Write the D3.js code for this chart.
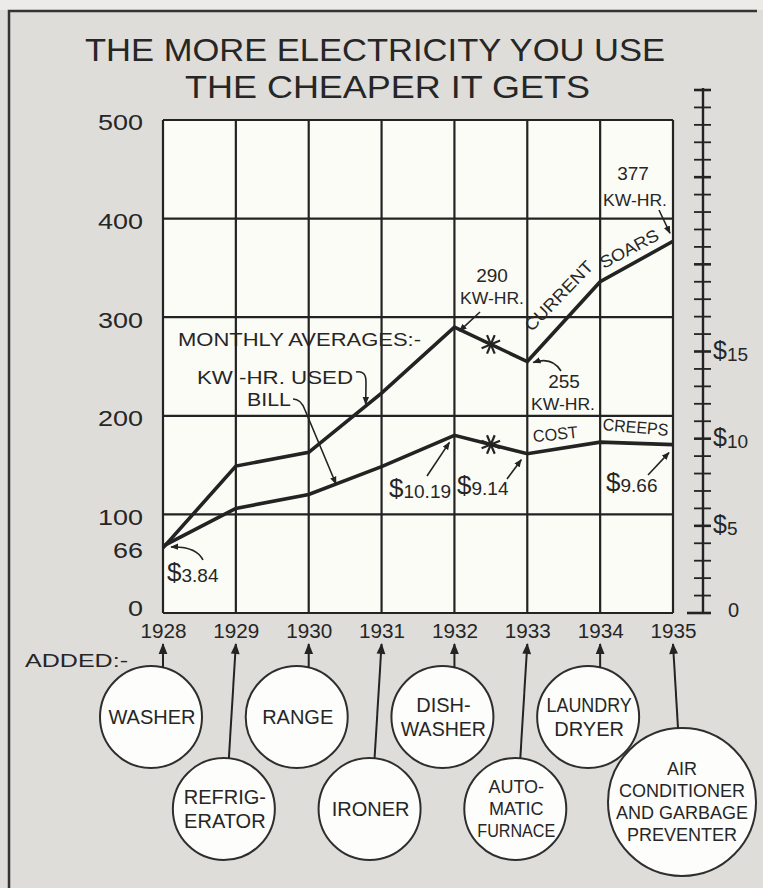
<!DOCTYPE html>
<html>
<head>
<meta charset="utf-8">
<script src="https://cdn.jsdelivr.net/npm/d3@7"></script>
<style>
  html, body { margin: 0; padding: 0; background: #dedddA; }
  svg { display: block; }
  text { font-family: "Liberation Sans", "DejaVu Sans", sans-serif; fill: #262626; }
</style>
</head>
<body>
<svg id="chart" width="763" height="888"></svg>
<script>
// ---- data ----
const years = [1928, 1929, 1930, 1931, 1932, 1933, 1934, 1935];
const kwhUsed = [66, 149, 163, 223, 290, 255, 336, 377];        // monthly kW-hr used
const billDollars = [3.84, 6.0, 6.8, 8.4, 10.19, 9.14, 9.8, 9.66]; // monthly bill, $
const kwhTickLabels = [0, 66, 100, 200, 300, 400, 500];
const kwhGridValues = [100, 200, 300, 400];
const billTickValues = d3.range(0, 31);
const billTickLabels = [0, 5, 10, 15];
const applianceYears = [1928, 1929, 1930, 1931, 1932, 1933, 1934, 1935];
const applianceNames = [
  ["WASHER"],
  ["REFRIG-", "ERATOR"],
  ["RANGE"],
  ["IRONER"],
  ["DISH-", "WASHER"],
  ["AUTO-", "MATIC", "FURNACE"],
  ["LAUNDRY", "DRYER"],
  ["AIR", "CONDITIONER", "AND GARBAGE", "PREVENTER"]
];
const titleLines = ["THE MORE ELECTRICITY YOU USE", "THE CHEAPER IT GETS"];

// ---- layout ----
const ink = "#232323";
const plot = { left: 163, right: 673, top: 120, bottom: 613 };
const svg = d3.select("#chart");

const x = d3.scaleLinear().domain([1928, 1935]).range([plot.left, plot.right]);
const yKwh = d3.scaleLinear().domain([0, 500]).range([plot.bottom, plot.top]);
const yBill = d3.scaleLinear().domain([0, 30]).range([plot.bottom, 90]);

const defs = svg.append("defs");
defs.append("marker")
  .attr("id", "head").attr("viewBox", "0 0 10 10")
  .attr("refX", 9).attr("refY", 5)
  .attr("markerWidth", 8).attr("markerHeight", 8)
  .attr("markerUnits", "userSpaceOnUse").attr("orient", "auto")
  .append("path").attr("d", "M0,1 L10,5 L0,9 Z").attr("fill", ink);
defs.append("marker")
  .attr("id", "headBig").attr("viewBox", "0 0 10 10")
  .attr("refX", 9).attr("refY", 5)
  .attr("markerWidth", 12).attr("markerHeight", 11)
  .attr("markerUnits", "userSpaceOnUse").attr("orient", "auto")
  .append("path").attr("d", "M0,1 L10,5 L0,9 Z").attr("fill", ink);

// page background and frame
svg.append("rect").attr("width", 763).attr("height", 888).attr("fill", "#dedddA");
svg.append("rect").attr("width", 763).attr("height", 10).attr("fill", "#ecebe8");
svg.append("path").attr("d", "M9,888 L9,11 L757,11")
  .attr("fill", "none").attr("stroke", "#333").attr("stroke-width", 2.5);

// title
svg.selectAll("text.title").data(titleLines).join("text")
  .attr("class", "title")
  .attr("x", (d, i) => i === 0 ? 85 : 185)
  .attr("y", (d, i) => i === 0 ? 61 : 98)
  .attr("font-size", 32)
  .attr("textLength", (d, i) => i === 0 ? 580 : 405)
  .attr("lengthAdjust", "spacingAndGlyphs")
  .text(d => d);

// plot field and grid
svg.append("rect")
  .attr("x", plot.left).attr("y", plot.top)
  .attr("width", plot.right - plot.left).attr("height", plot.bottom - plot.top)
  .attr("fill", "#fcfcf7");
const grid = svg.append("g").attr("stroke", ink).attr("stroke-width", 2.2);
grid.selectAll("line.v").data(years).join("line").attr("class", "v")
  .attr("x1", d => x(d)).attr("x2", d => x(d))
  .attr("y1", plot.top).attr("y2", plot.bottom);
grid.selectAll("line.h").data(kwhGridValues.concat([0, 500])).join("line").attr("class", "h")
  .attr("x1", plot.left).attr("x2", plot.right)
  .attr("y1", d => yKwh(d)).attr("y2", d => yKwh(d));

// left (kW-hr) axis labels
const leftAxis = svg.append("g")
  .attr("transform", `translate(${plot.left},0)`)
  .call(d3.axisLeft(yKwh).tickValues(kwhTickLabels).tickSize(0).tickPadding(20).tickFormat(d3.format("d")));
leftAxis.select(".domain").remove();
leftAxis.selectAll("text")
  .attr("font-size", 22).attr("fill", "#333")
  .attr("font-family", "Liberation Sans, sans-serif")
  .attr("textLength", d => String(d).length * 15)
  .attr("lengthAdjust", "spacingAndGlyphs")
  .attr("dy", d => d === 0 ? "0.12em" : "0.45em");

// bottom year labels
const bottomAxis = svg.append("g")
  .attr("transform", `translate(0,${plot.bottom})`)
  .call(d3.axisBottom(x).tickValues(years).tickSize(0).tickPadding(11).tickFormat(d3.format("d")));
bottomAxis.select(".domain").remove();
bottomAxis.selectAll("text")
  .attr("font-size", 20).attr("fill", "#333")
  .attr("font-family", "Liberation Sans, sans-serif")
  .attr("textLength", 46).attr("lengthAdjust", "spacingAndGlyphs");

// right ($) scale
const axisX = 703;
const rightAxis = svg.append("g").attr("stroke", ink);
rightAxis.append("line")
  .attr("x1", axisX).attr("x2", axisX)
  .attr("y1", yBill(0)).attr("y2", yBill(30) - 2)
  .attr("stroke-width", 2.4);
rightAxis.selectAll("line.t").data(billTickValues).join("line").attr("class", "t")
  .attr("x1", d => axisX - (d === 0 ? 16 : 9)).attr("x2", axisX + 8)
  .attr("y1", d => yBill(d)).attr("y2", d => yBill(d))
  .attr("stroke-width", d => d % 5 === 0 ? 2.6 : 1.8);
const billLab = svg.selectAll("text.bill").data(billTickLabels).join("text")
  .attr("class", "bill")
  .attr("x", d => d === 0 ? 728 : 713)
  .attr("y", d => yBill(d) + (d === 0 ? 4 : 7));
billLab.filter(d => d === 0).attr("font-size", 20).text("0");
billLab.filter(d => d > 0).each(function (d) {
  const t = d3.select(this);
  t.append("tspan").attr("font-size", 25).text("$");
  t.append("tspan").attr("font-size", 19).attr("dy", 2).text(d);
});

// data lines
const line = d3.line().curve(d3.curveLinear);
const kwhPts = years.map((yr, i) => [x(yr), yKwh(kwhUsed[i])]);
const billPts = years.map((yr, i) => [x(yr), yBill(billDollars[i])]);
svg.append("path").attr("d", line(kwhPts))
  .attr("fill", "none").attr("stroke", ink).attr("stroke-width", 3.6).attr("stroke-linejoin", "miter");
svg.append("path").attr("d", line(billPts))
  .attr("fill", "none").attr("stroke", ink).attr("stroke-width", 3.6).attr("stroke-linejoin", "miter");

// asterisks on the 1932-33 segments
function star(cx, cy, r) {
  const g = svg.append("g").attr("stroke", ink).attr("stroke-width", 2.2);
  for (let k = 0; k < 4; k++) {
    const a = k * Math.PI / 4 + Math.PI / 8;
    g.append("line")
      .attr("x1", cx - r * Math.cos(a)).attr("y1", cy - r * Math.sin(a))
      .attr("x2", cx + r * Math.cos(a)).attr("y2", cy + r * Math.sin(a));
  }
}
const midX = (x(1932) + x(1933)) / 2;
star(midX, (yKwh(kwhUsed[4]) + yKwh(kwhUsed[5])) / 2, 10);
star(midX, (yBill(billDollars[4]) + yBill(billDollars[5])) / 2, 10);

// annotation text helper
function label(txt, px, py, size, opts = {}) {
  const t = svg.append("text").attr("x", px).attr("y", py)
    .attr("font-size", size)
    .attr("text-anchor", opts.anchor || "start")
    .text(txt);
  if (opts.width) t.attr("textLength", opts.width).attr("lengthAdjust", "spacingAndGlyphs");
  if (opts.rotate) t.attr("transform", `rotate(${opts.rotate},${px},${py})`);
  return t;
}
function dollar(amount, px, py) {
  const t = svg.append("text").attr("x", px).attr("y", py);
  t.append("tspan").attr("font-size", 26).text("$");
  t.append("tspan").attr("font-size", 19).attr("dy", 1).text(amount);
  return t;
}
function arrow(d) {
  svg.append("path").attr("d", d)
    .attr("fill", "none").attr("stroke", ink).attr("stroke-width", 1.6)
    .attr("marker-end", "url(#head)");
}

label("MONTHLY AVERAGES:-", 178, 346, 18, { width: 243 });
label("KW -HR. USED", 197, 384, 18, { width: 156 });
label("BILL", 247, 406, 18, { width: 44 });
arrow(`M356,372 Q366,370 366,382 L${x(1930) + 57},${yKwh(kwhUsed[2]) - 48}`);
arrow(`M293,399 Q301,399 305,410 L336,484`);

label("290", 492, 282, 19, { anchor: "middle" });
label("KW-HR.", 492, 304, 16, { anchor: "middle", width: 64 });
arrow(`M480,312 L${x(1932) + 5},${yKwh(290) + 4}`);

label("255", 564, 388, 19, { anchor: "middle" });
label("KW-HR.", 563, 410, 16, { anchor: "middle", width: 64 });
arrow(`M561,371 Q552,356 ${x(1933) + 6},${yKwh(255) + 1}`);

label("377", 633, 180, 19, { anchor: "middle" });
label("KW-HR.", 635, 206, 16, { anchor: "middle", width: 64 });
arrow(`M659,210 L${x(1935) - 3},${yKwh(377) - 8}`);

label("CURRENT", 563, 300, 17, { anchor: "middle", width: 90, rotate: -46 });
label("SOARS", 632, 254, 17, { anchor: "middle", width: 64, rotate: -28 });
label("COST", 556, 440, 17, { anchor: "middle", width: 45, rotate: -6 });
label("CREEPS", 635, 433, 17, { anchor: "middle", width: 66, rotate: 5 });

dollar("3.84", 167, 581);
arrow(`M203,560 Q196,546 ${x(1928) + 8},${yBill(3.84) + 1}`);
dollar("10.19", 389, 497);
arrow(`M427,476 L${x(1932) - 5},${yBill(10.19) + 7}`);
dollar("9.14", 457, 494);
arrow(`M507,479 L${x(1933) - 6},${yBill(9.14) + 6}`);
dollar("9.66", 606, 491);
arrow(`M648,475 L${x(1935) - 4},${yBill(9.66) + 8}`);

// appliances added each year
label("ADDED:-", 25, 667, 19, { width: 103 });
const circles = svg.append("g");
applianceYears.forEach((yr, i) => {
  const names = applianceNames[i];
  const lower = i % 2 === 1;
  const big = names.length > 3;
  const r = big ? 74 : 51;
  const cx = big ? x(yr) + 9 : x(yr) - 12;
  const cy = big ? 802 : (lower ? 809 : 717);
  const startX = big ? cx - 4 : (lower ? cx + 5 : x(yr));
  const startY = cy - Math.sqrt(r * r - (startX - cx) * (startX - cx));
  svg.append("line")
    .attr("x1", startX).attr("y1", startY)
    .attr("x2", x(yr)).attr("y2", 644)
    .attr("stroke", ink).attr("stroke-width", 2)
    .attr("marker-end", "url(#headBig)");
  circles.append("circle").attr("cx", cx).attr("cy", cy).attr("r", r)
    .attr("fill", "#fdfdfb").attr("stroke", "#2e2e2e").attr("stroke-width", 2);
  const size = big ? 18 : (names.length >= 3 ? 18 : 20);
  const lh = names.length >= 3 ? 22 : 24;
  const y0 = cy - (names.length - 1) * lh / 2 + size * 0.36;
  names.forEach((n, k) => {
    const t = label(n, cx + (big ? 0 : 1), y0 + k * lh, size, { anchor: "middle" });
    // keep each line within the circle's width at that height
    const dy = Math.abs(y0 + k * lh - size * 0.36 - cy);
    const room = 2 * Math.sqrt(Math.max(r * r - dy * dy, 0)) - 14;
    const w = t.node().getComputedTextLength();
    if (w > room) t.attr("textLength", room).attr("lengthAdjust", "spacingAndGlyphs");
  });
});
</script>
</body>
</html>
